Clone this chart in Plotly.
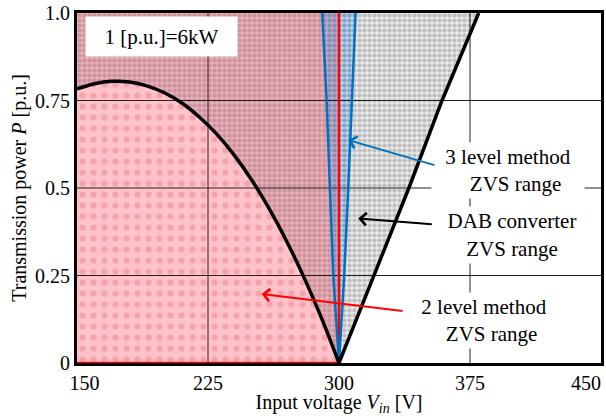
import plotly.graph_objects as go

# ---------------- data ----------------
X_TICKS = [150, 225, 300, 375, 450]
X_TICK_LABELS = ["150", "225", "300", "375", "450"]
Y_TICKS = [0, 0.25, 0.5, 0.75, 1.0]
Y_TICK_LABELS = ["0", "0.25", "0.5", "0.75", "1.0"]

# 2 level method ZVS range (V_in <= 300 V, whole power range)
V_2L = [150, 150, 300, 300, 150]
P_2L = [0, 1.0, 1.0, 0, 0]

# DAB converter ZVS boundary, buck side (left black curve)
V_DAB_LEFT = [150, 160, 170, 180, 190, 200, 210, 220, 230, 240, 250, 260, 270, 280, 290, 300]
P_DAB_LEFT = [0.783, 0.798, 0.805, 0.803, 0.792, 0.772, 0.743, 0.703, 0.654, 0.594,
              0.523, 0.441, 0.348, 0.244, 0.128, 0.0]
# DAB converter ZVS boundary, boost side (right black line)
V_DAB_RIGHT = [300, 320, 340, 359, 380]
P_DAB_RIGHT = [0.0, 0.25, 0.5, 0.75, 1.0]

# 3 level method ZVS range boundaries (blue lines)
P_3L = [0.0, 0.25, 0.5, 0.75, 1.0]
V_3L_LOW = [300, 296.7, 294.8, 292.9, 290.4]
V_3L_HIGH = [300, 303.0, 305.3, 307.6, 309.5]

NOTE_TEXT = "1 [p.u.]=6kW"
LABEL_3L = ["3 level method", "ZVS range"]
LABEL_DAB = ["DAB converter", "ZVS range"]
LABEL_2L = ["2 level method", "ZVS range"]

FONT = "Liberation Serif, Times New Roman, Times, serif"
NB = "\u00a0"

fig = go.Figure()

def area(x, y, bg, fg, size, solidity):
    fig.add_trace(go.Scatter(
        x=x, y=y, mode="lines", fill="toself", fillcolor=bg,
        line=dict(width=0, color="rgba(0,0,0,0)"),
        fillpattern=dict(shape=".", bgcolor=bg, fgcolor=fg, size=size,
                         solidity=solidity, fillmode="replace"),
        hoverinfo="skip", showlegend=False))

# pink 2-level region
area(V_2L, P_2L, "#FFC2C8", "#F4A3AD", 11, 0.25)

# DAB ZVS region, part inside the 2-level range (left of 300 V)
dab_lx = V_DAB_LEFT + [V_2L[2], V_2L[1]]
dab_ly = P_DAB_LEFT + [P_2L[2], P_2L[1]]
area(dab_lx, dab_ly, "#E8AEB6", "#CC939D", 5, 0.55)

# DAB ZVS region, part right of 300 V
dab_rx = V_DAB_RIGHT + [V_2L[2]]
dab_ry = P_DAB_RIGHT + [P_2L[2]]
area(dab_rx, dab_ry, "#E8E8E8", "#BEBEBE", 5, 0.55)

# 3 level region
fig.add_trace(go.Scatter(
    x=V_3L_LOW + V_3L_HIGH[::-1], y=P_3L + P_3L[::-1], mode="lines", fill="toself",
    line=dict(width=0, color="rgba(0,0,0,0)"),
    fillpattern=dict(shape=".", bgcolor="rgba(90,160,225,0.30)",
                     fgcolor="rgba(60,120,200,0.30)", size=5, solidity=0.55,
                     fillmode="replace"),
    hoverinfo="skip", showlegend=False))

# grid lines (interior ticks)
for xv in X_TICKS[1:-1]:
    fig.add_trace(go.Scatter(x=[xv, xv], y=[Y_TICKS[0], Y_TICKS[-1]], mode="lines",
                             line=dict(color="#222222", width=1),
                             hoverinfo="skip", showlegend=False))
for yv in Y_TICKS[1:-1]:
    fig.add_trace(go.Scatter(x=[X_TICKS[0], X_TICKS[-1]], y=[yv, yv], mode="lines",
                             line=dict(color="#222222", width=1),
                             hoverinfo="skip", showlegend=False))

# red boundary of 2-level range (right side and bottom)
fig.add_trace(go.Scatter(x=V_2L[2:], y=P_2L[2:], mode="lines",
                         line=dict(color="#FF0000", width=2.5),
                         hoverinfo="skip", showlegend=False))

# blue boundaries
for vv in (V_3L_LOW, V_3L_HIGH):
    fig.add_trace(go.Scatter(x=vv, y=P_3L, mode="lines",
                             line=dict(color="#0070C0", width=2.5),
                             hoverinfo="skip", showlegend=False))

# black DAB boundaries
fig.add_trace(go.Scatter(x=V_DAB_LEFT, y=P_DAB_LEFT, mode="lines",
                         line=dict(color="black", width=3.5, shape="spline"),
                         hoverinfo="skip", showlegend=False))
fig.add_trace(go.Scatter(x=V_DAB_RIGHT, y=P_DAB_RIGHT, mode="lines",
                         line=dict(color="black", width=3.5),
                         hoverinfo="skip", showlegend=False))

tf = dict(family=FONT, size=21, color="black")
annotations = [
    dict(x=198.3, y=0.933, xref="x", yref="y", text=NOTE_TEXT, showarrow=False,
         bgcolor="white", width=149, height=37, font=tf),
    dict(x=397.0, y=0.550, xref="x", yref="y",
         text=LABEL_3L[0] + "<br>" + NB * 3 + LABEL_3L[1], showarrow=False,
         bgcolor="white", width=150, height=53, font=tf),
    dict(x=399.3, y=0.366, xref="x", yref="y",
         text=LABEL_DAB[0] + "<br>" + LABEL_DAB[1], showarrow=False,
         bgcolor="white", width=150, height=54, font=tf),
    dict(x=383.1, y=0.121, xref="x", yref="y",
         text=LABEL_2L[0] + "<br>" + NB * 3 + LABEL_2L[1], showarrow=False,
         bgcolor="white", width=150, height=53, font=tf),
    # arrows
    dict(x=305.3, y=0.637, ax=355.5, ay=0.564, xref="x", yref="y", axref="x", ayref="y",
         text="", showarrow=True, arrowcolor="#0070C0", arrowwidth=2, arrowhead=4,
         arrowsize=1.2),
    dict(x=311.0, y=0.413, ax=354.0, ay=0.396, xref="x", yref="y", axref="x", ayref="y",
         text="", showarrow=True, arrowcolor="black", arrowwidth=2, arrowhead=4,
         arrowsize=1.2),
    dict(x=255.7, y=0.197, ax=337.2, ay=0.148, xref="x", yref="y", axref="x", ayref="y",
         text="", showarrow=True, arrowcolor="#FF0000", arrowwidth=2, arrowhead=4,
         arrowsize=1.2),
]

x_ticktext = list(X_TICK_LABELS)
x_ticktext[0] = NB * 3 + x_ticktext[0]
x_ticktext[-1] = x_ticktext[-1] + NB * 6

fig.update_layout(
    width=606, height=416,
    margin=dict(l=77, r=5, t=13, b=53, autoexpand=False),
    paper_bgcolor="white", plot_bgcolor="white",
    font=dict(family=FONT, size=20, color="black"),
    annotations=annotations,
    xaxis=dict(range=[X_TICKS[0], X_TICKS[-1]], tickvals=X_TICKS, ticktext=x_ticktext,
               showgrid=False, zeroline=False, showline=True, mirror=True,
               linecolor="black", linewidth=3, ticks="", automargin=False,
               ticklabeloverflow="allow",
               tickfont=dict(family=FONT, size=20),
               title=dict(text="Input voltage <i>V</i><sub><i>in</i></sub> [V]",
                          font=dict(family=FONT, size=20), standoff=5)),
    yaxis=dict(range=[Y_TICKS[0], Y_TICKS[-1]], tickvals=Y_TICKS, ticktext=Y_TICK_LABELS,
               showgrid=False, zeroline=False, showline=True, mirror=True,
               linecolor="black", linewidth=3, ticks="", automargin=False,
               tickfont=dict(family=FONT, size=20),
               title=dict(text="Transmission power <i>P</i> [p.u.]",
                          font=dict(family=FONT, size=20), standoff=4)),
)

fig.write_html("out.html", config={"displayModeBar": False},
               post_script="document.body.style.margin='0';document.body.style.padding='0';")
